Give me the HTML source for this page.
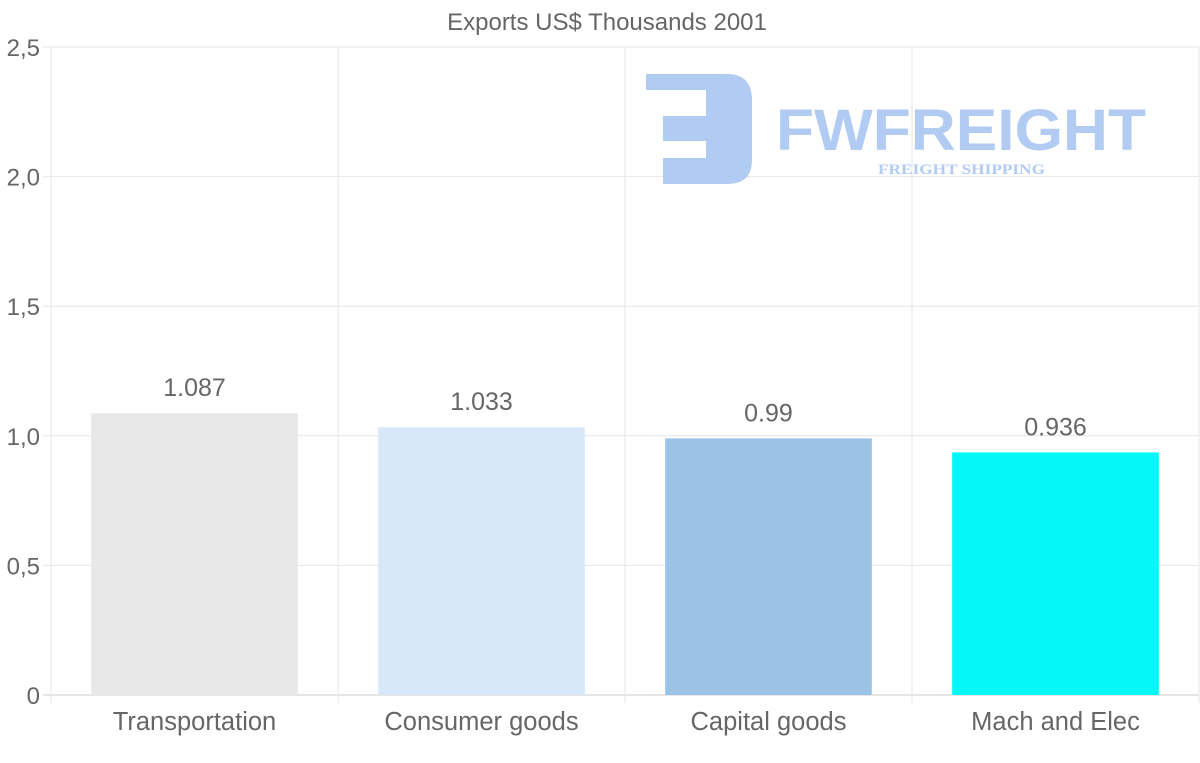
<!DOCTYPE html>
<html><head><meta charset="utf-8"><style>
body{margin:0;background:#fff;}
svg{display:block;font-family:"Liberation Sans",sans-serif;}
</style></head><body>
<svg id="chart" width="1200" height="763">
<text x="607" y="30" text-anchor="middle" font-size="24" fill="#666">Exports US$ Thousands 2001</text>
<g id="grid"></g>
<g id="logo" fill="#a9c6f2" opacity="0.9">
<path d="M646 74 H727 Q752 74 752 100 V160 Q752 184 727 184 H663 V158 H706 V141 H663 V116 H706 V90 H646 Z"/>
<text x="776" y="150" font-size="58" font-weight="bold" fill="#a9c6f2" textLength="370" lengthAdjust="spacingAndGlyphs">FWFREIGHT</text>
<text x="878" y="174" font-size="15" font-weight="bold" font-family="Liberation Serif,serif" fill="#a9c6f2" textLength="167" lengthAdjust="spacingAndGlyphs">FREIGHT SHIPPING</text>
</g>
<g id="bars"></g>
<g id="axes"></g>
</svg>
<script>
const categories=["Transportation","Consumer goods","Capital goods","Mach and Elec"];
const values=[1.087,1.033,0.99,0.936];
const valueLabels=["1.087","1.033","0.99","0.936"];
const yTicks=[0,0.5,1,1.5,2,2.5];
const yTickLabels=["0","0,5","1,0","1,5","2,0","2,5"];
const colors=["#e8e8e8","#d8e8f8","#9bc3e6","#04f8f8"];
const NS="http://www.w3.org/2000/svg";
const L=51,R=1199,T=47,B=695,yMax=2.5;
const y=v=>B-(v/yMax)*(B-T);
const cw=(R-L)/categories.length;
const x=i=>L+i*cw;
function mk(t,a,p){const e=document.createElementNS(NS,t);for(const k in a)e.setAttribute(k,a[k]);p.appendChild(e);return e;}
const grid=document.getElementById('grid'),bars=document.getElementById('bars'),axes=document.getElementById('axes');
yTicks.forEach((v,i)=>{
 const ln=mk('line',{x1:L-8,x2:R,y1:y(v),y2:y(v),stroke:i==0?'#ccc':'#e6e6e6'},grid);
 
 
 const t=mk('text',{x:40,y:y(v)+9,'text-anchor':'end','font-size':24,fill:'#666'},axes);
 t.textContent=yTickLabels[i];
 
 
});
for(let i=0;i<=categories.length;i++){
 const ln=mk('line',{x1:x(i),x2:x(i),y1:T,y2:B+8,stroke:'#e6e6e6'},grid);
 
 
}
categories.forEach((c,i)=>{
 const bw=cw*0.72,bx=x(i)+(cw-bw)/2;
 const r=mk('rect',{x:bx,y:y(values[i]),width:bw,height:B-y(values[i]),fill:colors[i]},bars);
 
 
 const vl=mk('text',{x:x(i)+cw/2,y:y(values[i])-17,'text-anchor':'middle','font-size':25,fill:'#666'},bars);
 vl.textContent=valueLabels[i];
 
 
 const t=mk('text',{x:x(i)+cw/2,y:730,'text-anchor':'middle','font-size':25.5,fill:'#666'},axes);
 t.textContent=c;
 
 
});
</script>
</body></html>
